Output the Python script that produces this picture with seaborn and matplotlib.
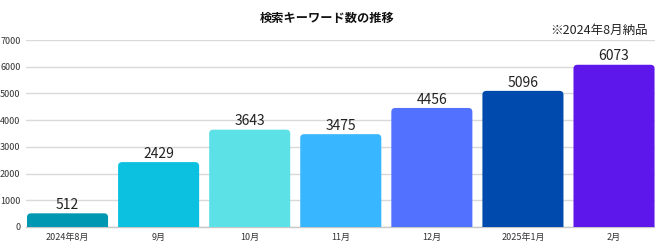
import matplotlib
matplotlib.use("Agg")
import matplotlib.pyplot as plt
import seaborn as sns
import pandas as pd
from matplotlib.patches import FancyBboxPatch

categories = ["2024年8月", "9月", "10月", "11月", "12月", "2025年1月", "2月"]
values = [512, 2429, 3643, 3475, 4456, 5096, 6073]
colors = ["#0097B2", "#0CC0DF", "#5CE1E6", "#38B6FF", "#5271FF", "#004AAD", "#5E17EB"]
title = "検索キーワード数の推移"
note = "※2024年8月納品"

sns.set_theme(style="white")
plt.rcParams['font.family'] = ['Noto Sans CJK JP', 'DejaVu Sans']

df = pd.DataFrame({"month": categories, "count": values})

fig = plt.figure(figsize=(6.55, 2.5), dpi=100)
ax = fig.add_axes([26/655, 23/250, 629/655, 187/250])

sns.barplot(data=df, x="month", y="count", hue="month", palette=colors,
            order=categories, hue_order=categories, legend=False,
            width=0.89, saturation=1, ax=ax, zorder=3)

ax.set_xlim(-0.456, 6.45)
ax.set_ylim(0, 7000)

# rounded top corners
px_per_x = 629 / (6.45 + 0.456)
px_per_y = 187 / 7000
aspect = px_per_x / px_per_y
r = 4 / px_per_x
for p in list(ax.patches):
    x0, w, h = p.get_x(), p.get_width(), p.get_height()
    fc = p.get_facecolor()
    p.remove()
    fb = FancyBboxPatch((x0, -400), w, h + 400,
                        boxstyle=f"round,pad=0,rounding_size={r}",
                        mutation_aspect=aspect, facecolor=fc, edgecolor="none",
                        zorder=3)
    ax.add_patch(fb)

for i, v in enumerate(values):
    ax.text(i, v + 50, str(v), ha="center", va="bottom", fontsize=10,
            color="#222222", zorder=4)

ax.set_yticks(range(0, 7001, 1000))
ax.yaxis.grid(True, color="#d9d9d9", linewidth=1.0, zorder=0)
ax.set_axisbelow(True)
for s in ["top", "right", "left"]:
    ax.spines[s].set_visible(False)
ax.spines["bottom"].set_color("#c8c8c8")
ax.spines["bottom"].set_linewidth(1.0)
ax.tick_params(axis="both", length=0, labelsize=6.5, colors="#333333")
ax.tick_params(axis="y", pad=4)
ax.tick_params(axis="x", pad=4)
ax.set_xlabel("")
ax.set_ylabel("")

fig.text(0.5, 1 - 18/250, title, ha="center", va="center", fontsize=8.8,
         fontweight="bold", color="#111111")
fig.text(648/655, 1 - 30/250, note, ha="right", va="center", fontsize=9,
         color="#222222")

fig.savefig("out.png", dpi=100)
